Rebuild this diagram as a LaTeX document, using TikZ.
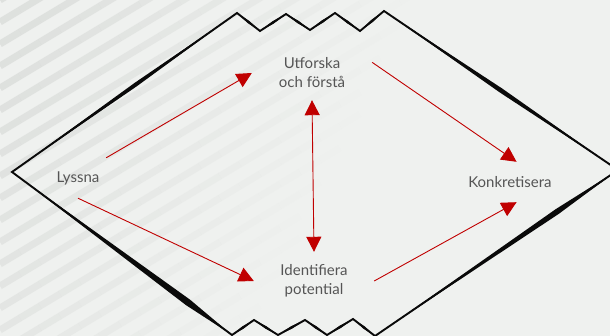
\documentclass[tikz,border=0pt]{standalone}
\usepackage{fontspec}
\setmainfont{Lato}
\usetikzlibrary{arrows.meta,calc}

\definecolor{paper}{RGB}{239,241,239}
\definecolor{streak}{RGB}{200,203,200}
\definecolor{ink}{RGB}{10,10,10}
\definecolor{flowred}{RGB}{192,0,0}
\definecolor{labelgrey}{RGB}{85,85,85}

% tapered brush stroke: from, to, position of widest point, half width
\newcommand{\brush}[4]{%
  \fill[ink] (#1) -- ($(#1)!#3!(#2)!#4!90:(#2)$) -- (#2)
    -- ($(#1)!#3!(#2)!#4!-90:(#2)$) -- cycle;}

\tikzset{
  phase/.style={text=labelgrey, font=\fontsize{15}{19}\selectfont,
    align=center, inner sep=0pt},
  flow/.style={draw=flowred, line width=0.9pt},
  rim/.style={draw=ink, line width=1.9pt, line join=miter},
}

\begin{document}
\begin{tikzpicture}[x=1pt, y=-1pt, >={Triangle[length=15pt,width=15pt]}]
  \useasboundingbox (0,0) rectangle (610,336);
  \fill[paper] (0,0) rectangle (610,336);
  \clip (0,0) rectangle (610,336);

  % faint diagonal streaks, fading out to the right
  \foreach \b in {0,22,...,616}
    \foreach \x in {0,20,...,420} {
      \pgfmathsetmacro\op{max(0,min(0.42,0.38*(1-(\x+10+0.5*(\b-0.6*\x-174))/330)))}
      \draw[streak, line width=7pt, opacity=\op]
        (\x,\b-0.6*\x) -- (\x+20,\b-0.6*\x-12);
    }

  % outline corners
  \coordinate (l) at (12,172);
  \coordinate (r) at (618,170);
  \coordinate (t0) at (237,13);
  \coordinate (t1) at (260,31);
  \coordinate (t2) at (286,14);
  \coordinate (t3) at (310,30);
  \coordinate (t4) at (335,13);
  \coordinate (t5) at (360,31);
  \coordinate (t6) at (384,11);
  \coordinate (b0) at (232,335);
  \coordinate (b1) at (254,320);
  \coordinate (b2) at (278,335);
  \coordinate (b3) at (305,320);
  \coordinate (b4) at (327,335);
  \coordinate (b5) at (353,319);
  \coordinate (b6) at (375,336);

  \draw[rim] (l) -- (t0) -- (t1) -- (t2) -- (t3) -- (t4) -- (t5) -- (t6)
    -- (r) -- (b6) -- (b5) -- (b4) -- (b3) -- (b2) -- (b1) -- (b0) -- cycle;
  \brush{l}{t0}{0.55}{2pt}
  \brush{t6}{r}{0.5}{2.3pt}
  \brush{l}{b0}{0.8}{3.4pt}
  \brush{b6}{r}{0.75}{2.8pt}
  \foreach \p/\q in {t0/t1,t1/t2,t2/t3,t3/t4,t4/t5,t5/t6,
                     b0/b1,b1/b2,b2/b3,b3/b4,b4/b5,b5/b6}
    {\brush{\p}{\q}{0.5}{1.3pt}}

  % phases
  \node[phase, minimum width=56pt, minimum height=40pt] (lys) at (78,178) {Lyssna};
  \node[phase, minimum width=120pt, minimum height=54pt] (utf) at (312,73) {Utforska\\och förstå};
  \node[phase, minimum width=120pt, minimum height=58pt] (idf) at (314,281) {Identifiera\\potential};
  \node[phase, minimum height=40pt] (kon) at (510,182) {Konkretisera};

  \draw[flow, ->] (lys.north east) -- (utf.west);
  \draw[flow, ->] (lys.south) -- (idf.west);
  \draw[flow, ->] (utf.10) -- (kon.72);
  \draw[flow, ->] (idf.east) -- (kon.-72);
  \draw[flow, <->] (utf.south) -- (idf.north);
\end{tikzpicture}
\end{document}
